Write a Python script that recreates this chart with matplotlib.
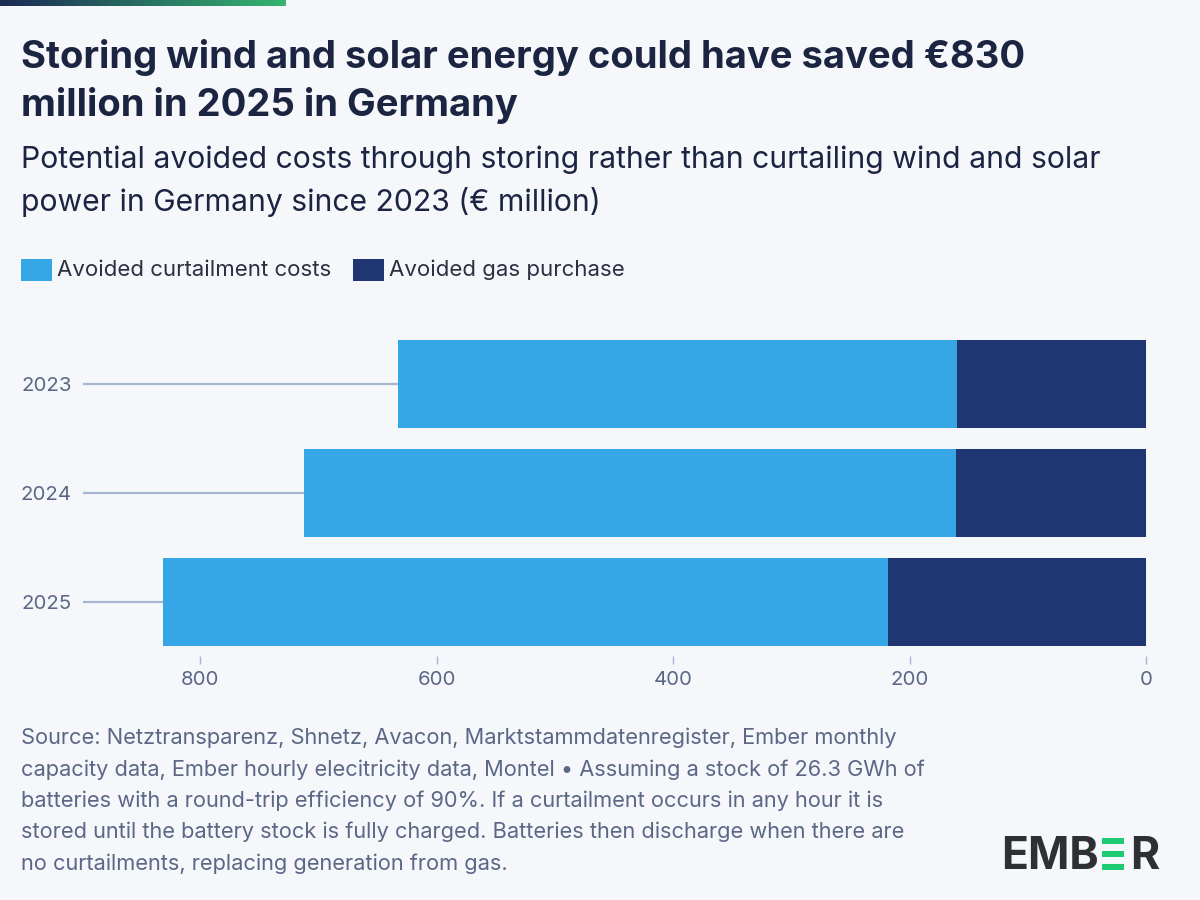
import numpy as np
import matplotlib
matplotlib.use("Agg")
import matplotlib.pyplot as plt
from matplotlib.patches import Rectangle

years = ["2023", "2024", "2025"]
gas_purchase = [160, 160.7, 218]
curtailment = [472.6, 551.3, 613]
x_ticks = [800, 600, 400, 200, 0]

BG = "#F5F7FB"
DARK = "#1B2440"
GREY = "#5B6785"
BLUE = "#36A6E6"
NAVY = "#203672"
LINE = "#A9B6D3"
FONT = "Inter"
W, H = 1200, 900

def fx(px):
    return px / W

def fy(py):
    return 1 - py / H

fig = plt.figure(figsize=(12, 9), dpi=100, facecolor=BG)
plt.rcParams["font.family"] = FONT

# top gradient strip
grad = fig.add_axes([0, fy(6), fx(286), 6 / H])
c0 = np.array(matplotlib.colors.to_rgb("#1B2A55"))
c1 = np.array(matplotlib.colors.to_rgb("#35B56F"))
t = np.linspace(0, 1, 256)[None, :, None]
grad.imshow(c0 + (c1 - c0) * t, aspect="auto")
grad.axis("off")

# titles
for txt, y in [("Storing wind and solar energy could have saved €830", 57),
               ("million in 2025 in Germany", 105)]:
    fig.text(fx(21), fy(y), txt, fontsize=27.5, fontweight="bold", color=DARK,
             va="center", ha="left")
for txt, y in [("Potential avoided costs through storing rather than curtailing wind and solar", 160),
               ("power in Germany since 2023 (€ million)", 202)]:
    fig.text(fx(21), fy(y), txt, fontsize=21.7, color=DARK, va="center", ha="left")

# legend
fig.patches.append(Rectangle((fx(21), fy(281)), 31 / W, 22 / H, transform=fig.transFigure, color=BLUE, lw=0))
fig.text(fx(57), fy(270), "Avoided curtailment costs", fontsize=16, color="#2B3040", va="center")
fig.patches.append(Rectangle((fx(353), fy(281)), 31 / W, 22 / H, transform=fig.transFigure, color=NAVY, lw=0))
fig.text(fx(389), fy(270), "Avoided gas purchase", fontsize=16, color="#2B3040", va="center")

# chart
left, right, top, bottom = 83, 1146, 330, 656
ax = fig.add_axes([fx(left), fy(bottom), (right - left) / W, (bottom - top) / H])
ax.set_facecolor("none")
ypos = np.arange(len(years))
totals = np.array(gas_purchase) + np.array(curtailment)
for y, tot in zip(ypos, totals):
    ax.plot([899, tot], [y, y], color=LINE, lw=1.6, zorder=1, solid_capstyle="butt")
ax.barh(ypos, gas_purchase, height=0.807, color=NAVY, zorder=2)
ax.barh(ypos, curtailment, left=gas_purchase, height=0.807, color=BLUE, zorder=2)
ax.set_xlim(899, 0)
ax.set_ylim(2 + (bottom - 602) / 109, 0 - (384 - top) / 109)
for s in ax.spines.values():
    s.set_visible(False)
ax.set_xticks(x_ticks)
ax.tick_params(axis="x", length=6, width=1, color=LINE, labelcolor=GREY, labelsize=14.7, pad=5)
ax.set_yticks(ypos)
ax.set_yticklabels(years)
ax.tick_params(axis="y", length=0, labelcolor=GREY, labelsize=14.7, pad=8)

# footnote
notes = ["Source: Netztransparenz, Shnetz, Avacon, Marktstammdatenregister, Ember monthly",
         "capacity data, Ember hourly elecitricity data, Montel • Assuming a stock of 26.3 GWh of",
         "batteries with a round-trip efficiency of 90%. If a curtailment occurs in any hour it is",
         "stored until the battery stock is fully charged. Batteries then discharge when there are",
         "no curtailments, replacing generation from gas."]
for i, line in enumerate(notes):
    fig.text(fx(21), fy(738 + i * 31.4), line, fontsize=15.7, color=GREY, va="center")

# logo
LOGO = "#2F3033"
GREEN = "#1FCB72"
fig.text(fx(1001), fy(857), "EMB", fontsize=32, fontweight="bold", color=LOGO, va="center", ha="left")
for py in [844, 857, 870]:
    fig.patches.append(Rectangle((fx(1102), fy(py)), 22 / W, 6 / H, transform=fig.transFigure, color=GREEN, lw=0))
fig.text(fx(1130), fy(857), "R", fontsize=32, fontweight="bold", color=LOGO, va="center", ha="left")

fig.savefig("out.png", dpi=100, facecolor=BG)
